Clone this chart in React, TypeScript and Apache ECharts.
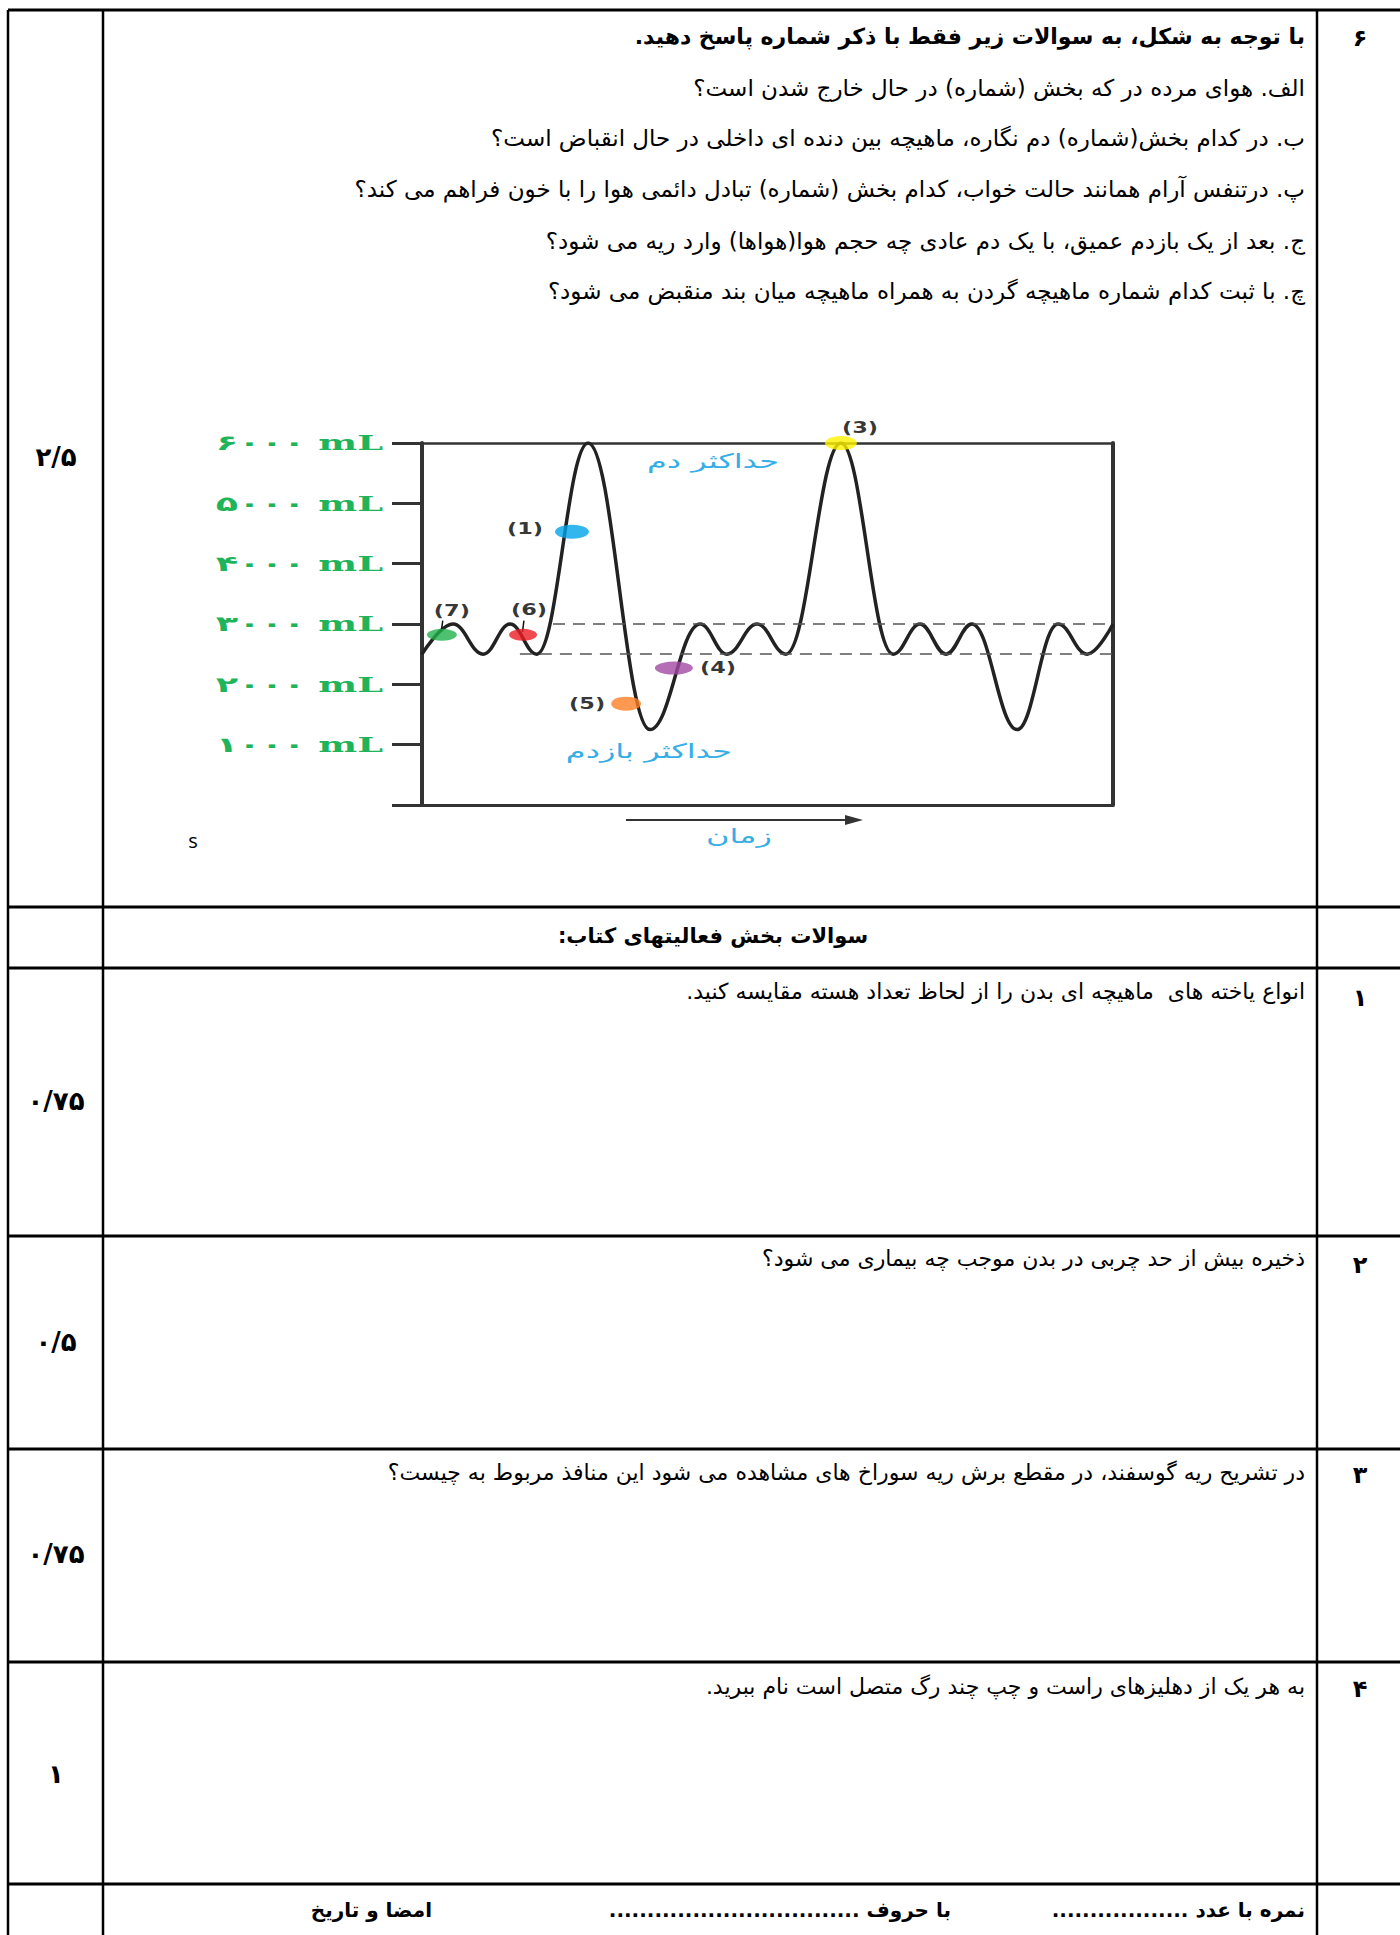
import React, { useEffect, useRef } from 'react';
import * as echarts from 'echarts';

// Spirogram data (time units, volume in mL)
const timeValues = [0, 1.08, 2.12, 3.06, 3.99, 5.77, 7.92, 9.66, 10.59, 11.64, 12.64, 14.55, 16.36, 17.3, 18.2, 19.1, 20.67, 22.09, 23.1, 24];
const volumeValues = [2500, 3000, 2500, 3000, 2500, 6000, 1250, 3000, 2500, 3000, 2500, 6000, 2500, 3000, 2500, 3000, 1250, 3000, 2500, 3000];
const yTickLabels = ['', '۱۰۰۰ mL', '۲۰۰۰ mL', '۳۰۰۰ mL', '۴۰۰۰ mL', '۵۰۰۰ mL', '۶۰۰۰ mL'];
const markerNames = ['(7)', '(6)', '(1)', '(5)', '(4)', '(3)'];
const markerTimes = [0.69, 3.51, 5.21, 7.09, 8.75, 14.55];
const markerVolumes = [2820, 2820, 4530, 1680, 2270, 6000];
const referenceLevels = [3000, 2500];
const referenceStarts = [4.55, 3.4];

// Exam sheet texts
const RLM = '\u200F';
const headerQuestion = 'با توجه به شکل، به سوالات زیر فقط با ذکر شماره پاسخ دهید.' + RLM;
const subQuestions = [
  'الف. هوای مرده در که بخش (شماره) در حال خارج شدن است؟',
  'ب. در کدام بخش(شماره) دم نگاره، ماهیچه بین دنده ای داخلی در حال انقباض است؟',
  'پ. درتنفس آرام همانند حالت خواب، کدام بخش (شماره) تبادل دائمی هوا را با خون فراهم می کند؟',
  'ج. بعد از یک بازدم عمیق، با یک دم عادی چه حجم هوا(هواها) وارد ریه می شود؟',
  'چ. با ثبت کدام شماره ماهیچه گردن به همراه ماهیچه میان بند منقبض می شود؟',
];
const sectionTitle = 'سوالات بخش فعالیتهای کتاب:' + RLM;
const bookQuestions = [
  'انواع یاخته های  ماهیچه ای بدن را از لحاظ تعداد هسته مقایسه کنید.' + RLM,
  'ذخیره بیش از حد چربی در بدن موجب چه بیماری می شود؟',
  'در تشریح ریه گوسفند، در مقطع برش ریه سوراخ های مشاهده می شود این منافذ مربوط به چیست؟',
  'به هر یک از دهلیزهای راست و چپ چند رگ متصل است نام ببرید.' + RLM,
];
const bookNumbers = ['۱', '۲', '۳', '۴'];
const bookScores = ['۰/۷۵', '۰/۵', '۰/۷۵', '۱'];
const footerTexts = [
  'نمره با عدد ..................' + RLM,
  'با حروف .................................' + RLM,
  'امضا و تاریخ',
];
const chartTexts = ['حداکثر دم', 'حداکثر بازدم', 'زمان'];

// Layout / styles
const markerStyles = [
  { color: '#22b14c', size: [30, 12], position: 'top', distance: 10, offset: [10, 0], connector: true },
  { color: '#ed1c24', size: [28, 12], position: 'top', distance: 11, offset: [6, 0], connector: true },
  { color: '#00a2e8', size: [34, 14], position: 'left', distance: 12, offset: [0, -3], connector: false },
  { color: '#ff7f27', size: [30, 14], position: 'left', distance: 6, offset: [0, 0], connector: false },
  { color: '#a349a4', size: [38, 13], position: 'right', distance: 7, offset: [0, 0], connector: false },
  { color: '#fff200', size: [32, 14], position: 'top', distance: 0, offset: [19, 0], connector: false },
];
const hLines = [10, 907, 968, 1236, 1449, 1662, 1884];
const vLines = [8, 103, 1317];
const subQuestionY = [88, 138, 189, 241, 291];
const bookQuestionY = [991, 1258, 1472, 1686];
const bookNumberY = [998, 1265, 1475, 1689];
const bookScoreY = [1101, 1342, 1554, 1774];
const footerRight = [1305, 951, 432];
const chartTextPos = [[713, 461], [649, 751], [739, 836]];

const FA = '"DejaVu Sans", sans-serif';
const BLUE = '#35aee6';
const GREEN = '#1fb45a';
const Y_LABEL_STRETCH = 1.75;
const MARKER_LABEL_STRETCH = 1.4;

function txt(text: string, x: number, y: number, size: number, bold: boolean, align: string, fill = '#000', family = FA, scaleX = 1) {
  return {
    type: 'text',
    x,
    y,
    scaleX,
    style: {
      text,
      font: `${bold ? 'bold ' : ''}${size}px ${family}`,
      fill,
      align,
      verticalAlign: 'middle',
    },
  };
}

export default function App() {
  const ref = useRef<HTMLDivElement>(null);
  useEffect(() => {
    document.body.style.margin = '0';
    if (!ref.current) return;
    const el = ref.current;
    const chart = echarts.init(el, undefined, { renderer: 'svg' });

    const graphics: any[] = [];
    hLines.forEach((y) => graphics.push({ type: 'line', shape: { x1: 8, y1: y, x2: 1400, y2: y }, style: { stroke: '#000', lineWidth: 3 } }));
    vLines.forEach((x) => graphics.push({ type: 'line', shape: { x1: x, y1: 10, x2: x, y2: 1935 }, style: { stroke: '#000', lineWidth: 2.5 } }));

    graphics.push(txt('۶', 1360, 38, 24, true, 'center'));
    graphics.push(txt(headerQuestion, 1305, 36, 22, true, 'right'));
    subQuestions.forEach((q, i) => graphics.push(txt(q, 1305, subQuestionY[i], 23, false, 'right')));
    graphics.push(txt('۲/۵', 56, 457, 26, true, 'center'));

    graphics.push(txt('s', 193, 840, 20, false, 'center', '#000', '"Open Sans", sans-serif'));
    chartTexts.forEach((t, i) => graphics.push(txt(t, chartTextPos[i][0], chartTextPos[i][1], 20, false, 'center', BLUE, FA, 1.6)));
    graphics.push({ type: 'line', shape: { x1: 626, y1: 820, x2: 852, y2: 820 }, style: { stroke: '#333', lineWidth: 2 } });
    graphics.push({ type: 'polygon', shape: { points: [[863, 820], [845, 815], [845, 825]] }, style: { fill: '#333' } });

    graphics.push(txt(sectionTitle, 713, 936, 21, true, 'center'));
    bookQuestions.forEach((q, i) => {
      graphics.push(txt(q, 1305, bookQuestionY[i], 22, false, 'right'));
      graphics.push(txt(bookNumbers[i], 1360, bookNumberY[i], 24, true, 'center'));
      graphics.push(txt(bookScores[i], 56, bookScoreY[i], 26, true, 'center'));
    });
    footerTexts.forEach((t, i) => graphics.push(txt(t, footerRight[i], 1910, 20, true, 'right')));

    const axisLineOnly = (color: string, width: number) => ({
      show: true,
      onZero: false,
      lineStyle: { color, width },
    });

    const connectorData: any[] = [];
    markerNames.forEach((_, i) => {
      if (!markerStyles[i].connector) return;
      connectorData.push([
        { coord: [markerTimes[i] + 0.03, markerVolumes[i] + 235] },
        { coord: [markerTimes[i] - 0.02, markerVolumes[i] + 50] },
      ]);
    });

    chart.setOption({
      animation: false,
      backgroundColor: '#fff',
      grid: { left: 422, top: 443, width: 691, height: 362, containLabel: false },
      xAxis: [
        { type: 'value', min: 0, max: 24, axisLine: axisLineOnly('#333', 3), axisTick: { show: false }, axisLabel: { show: false }, splitLine: { show: false } },
        { type: 'value', position: 'top', min: 0, max: 24, axisLine: axisLineOnly('#333', 2.5), axisTick: { show: false }, axisLabel: { show: false }, splitLine: { show: false } },
      ],
      yAxis: [
        {
          type: 'value',
          min: 0,
          max: 6000,
          interval: 1000,
          axisLine: axisLineOnly('#333', 4),
          axisTick: { show: true, length: 30, lineStyle: { color: '#333', width: 3 } },
          axisLabel: {
            show: true,
            margin: 39,
            color: GREEN,
            fontSize: 21,
            fontWeight: 'bold',
            fontFamily: '"DejaVu Serif", "DejaVu Sans", serif',
            formatter: (v: number) => yTickLabels[Math.round(v / 1000)] || '',
          },
          splitLine: { show: false },
        },
        { type: 'value', position: 'right', min: 0, max: 6000, axisLine: axisLineOnly('#333', 4), axisTick: { show: false }, axisLabel: { show: false }, splitLine: { show: false } },
      ],
      series: [
        {
          type: 'line',
          data: timeValues.map((t, i) => [t, volumeValues[i]]),
          smooth: 0.4,
          smoothMonotone: 'x',
          showSymbol: false,
          lineStyle: { color: '#222', width: 3.5 },
          markLine: {
            silent: true,
            symbol: ['none', 'none'],
            label: { show: false },
            lineStyle: { type: [12, 8], color: '#555', width: 1.5 },
            data: referenceLevels.map((lv, i) => [{ coord: [referenceStarts[i], lv] }, { coord: [24, lv] }]),
          },
        },
        {
          type: 'scatter',
          symbol: 'circle',
          z: 5,
          markLine: {
            silent: true,
            symbol: ['none', 'none'],
            label: { show: false },
            lineStyle: { type: 'solid', color: '#111', width: 1.5 },
            data: connectorData,
          },
          data: markerNames.map((name, i) => ({
            value: [markerTimes[i], markerVolumes[i]],
            symbolSize: markerStyles[i].size,
            itemStyle: { color: markerStyles[i].color },
            label: {
              show: true,
              formatter: name,
              position: markerStyles[i].position,
              distance: markerStyles[i].distance,
              offset: markerStyles[i].offset,
              color: '#000',
              fontSize: 16,
              fontWeight: 'bold',
              fontFamily: '"DejaVu Sans", Arial, sans-serif',
            },
          })),
        },
      ],
      graphic: graphics,
    });

    // Stretch some labels horizontally around their anchor, as in the picture
    const stretchLabels = () => {
      el.querySelectorAll('text').forEach((t) => {
        const c = t.textContent || '';
        if (t.getAttribute('data-stretched')) return;
        let s = 1;
        if (c.endsWith(' mL')) s = Y_LABEL_STRETCH;
        else if (markerNames.indexOf(c) >= 0) s = MARKER_LABEL_STRETCH;
        if (s === 1) return;
        const base = t.getAttribute('transform') || '';
        const x = parseFloat(t.getAttribute('x') || '0') || 0;
        const y = parseFloat(t.getAttribute('y') || '0') || 0;
        t.setAttribute('transform', `${base} translate(${x} ${y}) scale(${s} 1) translate(${-x} ${-y})`.trim());
        t.setAttribute('data-stretched', '1');
      });
    };
    stretchLabels();
    chart.on('finished', stretchLabels);

    return () => chart.dispose();
  }, []);

  return <div ref={ref} style={{ width: 1400, height: 1935 }} />;
}
